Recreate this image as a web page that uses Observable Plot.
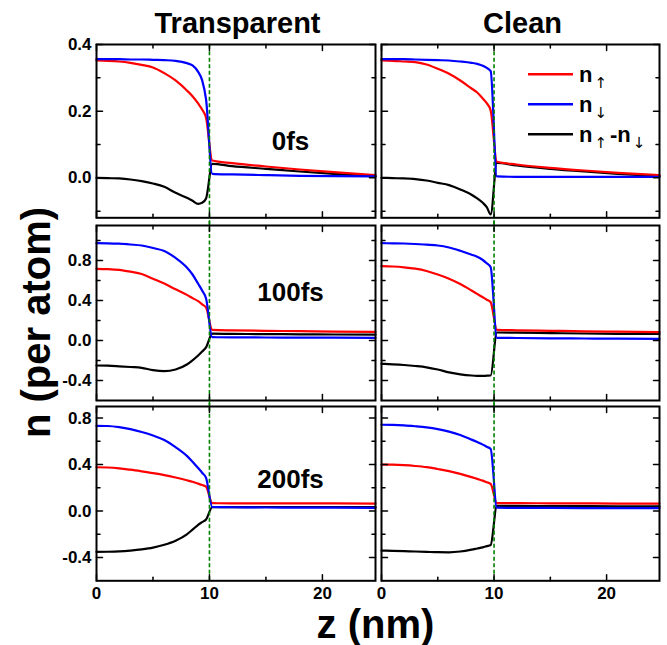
<!DOCTYPE html>
<html>
<head>
<meta charset="utf-8">
<script src="https://cdn.jsdelivr.net/npm/d3@7"></script>
<script src="https://cdn.jsdelivr.net/npm/@observablehq/plot@0.6"></script>
<style>
  html, body { margin: 0; padding: 0; background: #fff; }
  #figure { position: relative; width: 667px; height: 645px; overflow: hidden; background: #fff; }
</style>
</head>
<body>
<div id="figure"></div>
<script>
// ---- depth grid (nm) shared by every profile ----
const z = [0, 1, 2, 3, 4, 5, 6, 7, 8, 8.5, 9, 9.35, 9.7, 10.25, 12, 15, 18, 21, 24.7];

// ---- 0 fs ----
const transparent0Up   = [0.352, 0.351, 0.349, 0.345, 0.339, 0.331, 0.314, 0.292, 0.262, 0.245, 0.223, 0.205, 0.180, 0.052, 0.044, 0.034, 0.025, 0.017, 0.008];
const transparent0Down = [0.356, 0.356, 0.356, 0.355, 0.355, 0.354, 0.353, 0.351, 0.344, 0.337, 0.318, 0.293, 0.235, 0.012, 0.010, 0.008, 0.006, 0.005, 0.004];
const transparent0Diff = [0.000, -0.001, -0.002, -0.005, -0.010, -0.017, -0.027, -0.045, -0.060, -0.069, -0.078, -0.075, -0.062, 0.042, 0.035, 0.027, 0.019, 0.012, 0.004];
const clean0Up   = [0.352, 0.351, 0.349, 0.347, 0.340, 0.327, 0.312, 0.292, 0.268, 0.256, 0.238, 0.224, 0.202, 0.048, 0.040, 0.030, 0.022, 0.015, 0.008];
const clean0Down = [0.356, 0.356, 0.356, 0.355, 0.354, 0.353, 0.352, 0.349, 0.345, 0.342, 0.336, 0.330, 0.320, 0.004, 0.003, 0.003, 0.003, 0.003, 0.003];
const clean0Diff = [0.000, -0.001, -0.002, -0.004, -0.008, -0.015, -0.022, -0.035, -0.051, -0.062, -0.075, -0.088, -0.110, 0.045, 0.037, 0.027, 0.019, 0.012, 0.005];

// ---- 100 fs ----
const transparent100Up   = [0.717, 0.714, 0.706, 0.688, 0.665, 0.618, 0.569, 0.512, 0.456, 0.424, 0.393, 0.362, 0.330, 0.106, 0.101, 0.097, 0.093, 0.089, 0.086];
const transparent100Down = [0.973, 0.972, 0.968, 0.960, 0.950, 0.925, 0.895, 0.826, 0.730, 0.660, 0.567, 0.500, 0.420, 0.033, 0.032, 0.030, 0.029, 0.028, 0.027];
const transparent100Diff = [-0.250, -0.252, -0.258, -0.265, -0.273, -0.296, -0.306, -0.290, -0.240, -0.198, -0.150, -0.110, -0.068, 0.068, 0.066, 0.064, 0.062, 0.060, 0.058];
const clean100Up   = [0.743, 0.740, 0.732, 0.718, 0.695, 0.660, 0.618, 0.565, 0.500, 0.466, 0.432, 0.408, 0.383, 0.107, 0.102, 0.097, 0.092, 0.088, 0.083];
const clean100Down = [0.973, 0.972, 0.970, 0.965, 0.958, 0.950, 0.930, 0.897, 0.858, 0.838, 0.805, 0.772, 0.733, 0.027, 0.025, 0.022, 0.020, 0.018, 0.017];
const clean100Diff = [-0.233, -0.238, -0.245, -0.255, -0.268, -0.290, -0.318, -0.338, -0.350, -0.353, -0.354, -0.352, -0.350, 0.080, 0.078, 0.074, 0.070, 0.067, 0.065];

// ---- 200 fs ----
const transparent200Up   = [0.377, 0.375, 0.368, 0.356, 0.342, 0.327, 0.310, 0.289, 0.265, 0.252, 0.236, 0.224, 0.210, 0.068, 0.067, 0.067, 0.066, 0.066, 0.065];
const transparent200Down = [0.734, 0.732, 0.722, 0.705, 0.680, 0.650, 0.612, 0.550, 0.475, 0.425, 0.370, 0.330, 0.285, 0.035, 0.033, 0.031, 0.030, 0.029, 0.028];
const transparent200Diff = [-0.351, -0.350, -0.347, -0.340, -0.330, -0.315, -0.290, -0.255, -0.200, -0.160, -0.118, -0.095, -0.072, 0.033, 0.034, 0.035, 0.035, 0.035, 0.035];
const clean200Up   = [0.400, 0.399, 0.395, 0.388, 0.378, 0.362, 0.344, 0.320, 0.292, 0.277, 0.262, 0.248, 0.234, 0.069, 0.068, 0.067, 0.066, 0.065, 0.065];
const clean200Down = [0.743, 0.742, 0.738, 0.730, 0.720, 0.705, 0.684, 0.655, 0.615, 0.594, 0.572, 0.553, 0.534, 0.029, 0.028, 0.027, 0.026, 0.025, 0.025];
const clean200Diff = [-0.340, -0.342, -0.345, -0.348, -0.351, -0.354, -0.355, -0.348, -0.332, -0.322, -0.312, -0.302, -0.292, 0.045, 0.044, 0.043, 0.042, 0.041, 0.040];

// ---- labels, scales and ticks ----
const columnTitles = ["Transparent", "Clean"];
const rowTimes = ["0fs", "100fs", "200fs"];
const seriesColors = ["#ff0000", "#0000ff", "#000000"]; // n↑, n↓, n↑-n↓
const zDomain = [0, 24.7];
const zMajorTicks = [0, 10, 20];
const zMinorTicks = [5, 15];
const interfaceZ = 10;
const rowYDomains = [[-0.12, 0.4], [-0.6, 1.15], [-0.6, 0.9]];
const rowYMajor = [[0, 0.2, 0.4], [-0.4, 0, 0.4, 0.8], [-0.4, 0, 0.4, 0.8]];
const rowYMinor = [[-0.1, 0.1, 0.3], [-0.2, 0.2, 0.6, 1.0], [-0.2, 0.2, 0.6]];
const xLabel = "z (nm)";
const yLabel = "n (per atom)";

const panelSeries = [
  [[transparent0Up, transparent0Down, transparent0Diff], [clean0Up, clean0Down, clean0Diff]],
  [[transparent100Up, transparent100Down, transparent100Diff], [clean100Up, clean100Down, clean100Diff]],
  [[transparent200Up, transparent200Down, transparent200Diff], [clean200Up, clean200Down, clean200Diff]]
];

// ---- layout (pixel frames of each panel inside the figure) ----
const colFrames = [[95.5, 374.5], [381, 659]];
const rowFrames = [[44.3, 217.6], [225, 400], [405.7, 580]];
const gapPx = 7;
const FONT = '"Liberation Sans", Arial, Helvetica, sans-serif';
const ARROW_FONT = '"DejaVu Sans", "Liberation Sans", sans-serif';
const TICK_FONT_SIZE = 17;
const M = {left: 45, right: 8, top: 10, bottom: 32};
const dash = {stroke: "#008000", strokeWidth: 1.6, strokeDasharray: "4,2.5"};

// inward tick: a plain stroke drawn from the frame edge
const tickShape = {draw(ctx, l) { ctx.moveTo(0, 0); ctx.lineTo(0, -l); }};

function edgeTicks(yMajor, yMinor, lo, hi) {
  const out = [];
  const common = {shape: tickShape, anchor: "start", stroke: "black", strokeWidth: 1.5};
  for (const [xs, len] of [[zMajorTicks, 6], [zMinorTicks, 3.5]]) {
    out.push(Plot.vector(xs, {...common, x: d => d, y: lo, rotate: 0, length: len}));
    out.push(Plot.vector(xs, {...common, x: d => d, y: hi, rotate: 180, length: len}));
  }
  for (const [ys, len] of [[yMajor, 6], [yMinor, 3.5]]) {
    out.push(Plot.vector(ys, {...common, x: zDomain[0], y: d => d, rotate: 90, length: len}));
    out.push(Plot.vector(ys, {...common, x: zDomain[1], y: d => d, rotate: -90, length: len}));
  }
  return out;
}

const fig = document.getElementById("figure");

for (let row = 0; row < 3; row++) {
  for (let col = 0; col < 2; col++) {
    const [x0, x1] = colFrames[col];
    const [y0, y1] = rowFrames[row];
    const [lo, hi] = rowYDomains[row];
    const fw = x1 - x0, fh = y1 - y0;
    const ext = (hi - lo) * gapPx / fh;
    const [up, down, diff] = panelSeries[row][col];

    const marks = [];
    // profiles: difference first, then spin-up and spin-down on top
    for (const [vals, k] of [[diff, 2], [up, 0], [down, 1]]) {
      marks.push(Plot.line(vals, {x: z, y: vals, stroke: seriesColors[k], strokeWidth: 2.2, curve: "monotone-x"}));
    }
    // interface marker, continued across the gaps between stacked panels
    marks.push(Plot.ruleX([interfaceZ], {
      y1: row === 2 ? lo : lo - ext,
      y2: row === 0 ? hi : hi + ext,
      ...dash
    }));
    marks.push(Plot.frame({stroke: "black", strokeWidth: 2}));
    marks.push(...edgeTicks(rowYMajor[row], rowYMinor[row], lo, hi));
    if (col === 0) {
      marks.push(Plot.axisY({ticks: rowYMajor[row], tickSize: 0, tickPadding: 5, label: null,
        tickFormat: d => d.toFixed(1), fontSize: TICK_FONT_SIZE, fontWeight: "bold", fontFamily: FONT}));
    }
    if (row === 2) {
      marks.push(Plot.axisX({ticks: zMajorTicks, tickSize: 0, tickPadding: 6, label: null,
        tickFormat: d => String(d), fontSize: TICK_FONT_SIZE, fontWeight: "bold", fontFamily: FONT}));
    }

    const svg = Plot.plot({
      width: fw + M.left + M.right,
      height: fh + M.top + M.bottom,
      marginLeft: M.left, marginRight: M.right, marginTop: M.top, marginBottom: M.bottom,
      x: {domain: zDomain, axis: null},
      y: {domain: [lo, hi], axis: null},
      marks
    });
    svg.style.position = "absolute";
    svg.style.left = (x0 - M.left) + "px";
    svg.style.top = (y0 - M.top) + "px";
    svg.style.background = "transparent";
    svg.style.overflow = "visible";
    svg.style.maxWidth = "none";
    svg.style.fontFamily = FONT;
    svg.style.fontWeight = "bold";
    svg.style.fontSize = TICK_FONT_SIZE + "px";
    fig.appendChild(svg);
  }
}

// ---- titles, axis names, time stamps and legend ----
const overlay = d3.select(fig).append("svg")
  .attr("width", 667).attr("height", 645)
  .style("position", "absolute").style("left", "0px").style("top", "0px")
  .style("overflow", "visible")
  .attr("font-family", FONT).attr("font-weight", "bold").attr("fill", "black");

const titleX = [237.5, 522.5];
columnTitles.forEach((t, i) => overlay.append("text")
  .attr("x", titleX[i]).attr("y", 33.3).attr("text-anchor", "middle")
  .attr("font-size", 29).text(t));

const timeY = [149.7, 301, 488.3];
rowTimes.forEach((t, i) => overlay.append("text")
  .attr("x", 290.5).attr("y", timeY[i]).attr("text-anchor", "middle")
  .attr("font-size", 26).text(t));

overlay.append("text").attr("x", 375.5).attr("y", 638).attr("text-anchor", "middle")
  .attr("font-size", 40).text(xLabel);
overlay.append("text").attr("transform", "translate(50,322.5) rotate(-90)")
  .attr("text-anchor", "middle").attr("font-size", 40).text(yLabel);

// legend
const legendY = [74.3, 104.3, 134.3];
legendY.forEach((y, i) => overlay.append("line")
  .attr("x1", 528).attr("x2", 573).attr("y1", y).attr("y2", y)
  .attr("stroke", seriesColors[i]).attr("stroke-width", 2.4));

function legendLabel(y, parts) {
  const t = overlay.append("text").attr("x", 579).attr("y", y + 7.4).attr("font-size", 22);
  for (const p of parts) {
    const s = t.append("tspan").text(p.text);
    if (p.arrow) s.attr("font-size", 15).attr("font-weight", "normal")
      .attr("font-family", ARROW_FONT).attr("fill", "black").attr("dx", 2).attr("dy", 6);
    if (p.back) s.attr("dy", -6).attr("dx", 3);
  }
}
legendLabel(legendY[0], [{text: "n"}, {text: "\u2191", arrow: true}]);
legendLabel(legendY[1], [{text: "n"}, {text: "\u2193", arrow: true}]);
legendLabel(legendY[2], [{text: "n"}, {text: "\u2191", arrow: true}, {text: "-n", back: true}, {text: "\u2193", arrow: true}]);
</script>
</body>
</html>
